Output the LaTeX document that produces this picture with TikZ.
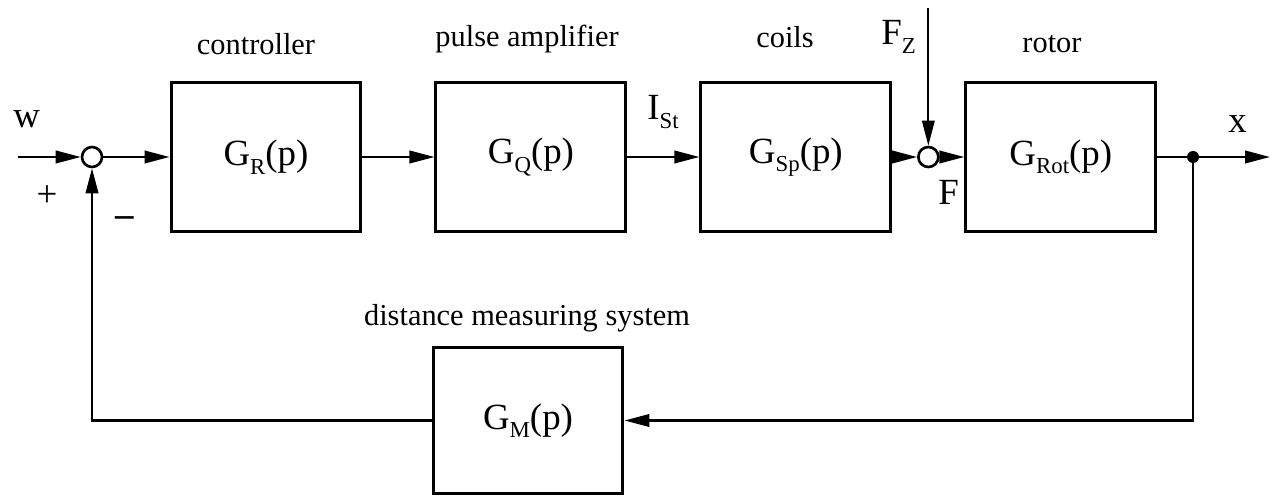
\documentclass[tikz,border=0pt]{standalone}
\usepackage{fontspec}
\setmainfont{Liberation Serif}
\usetikzlibrary{positioning, arrows.meta, calc}

\newcommand{\lsub}[1]{\raisebox{-0.5ex}{\fontsize{13}{13}\selectfont #1}}

\begin{document}
\begin{tikzpicture}[x=0.02cm, y=-0.02cm,
  block/.style={draw, line width=1.7pt, minimum width=3.8cm, minimum height=3cm,
                inner sep=0pt, font=\fontsize{21}{24}\selectfont},
  sumpt/.style={draw, circle, line width=1.5pt, minimum size=0.4cm, inner sep=0pt},
  branch/.style={fill, circle, minimum size=0.24cm, inner sep=0pt},
  lbl/.style={font=\fontsize{17.3}{20}\selectfont, inner sep=0pt, anchor=base},
  sig/.style={font=\fontsize{21}{24}\selectfont, inner sep=0pt, anchor=base west},
  wire/.style={line width=1.3pt},
  arr/.style={wire, -{Triangle[length=0.5cm, width=0.25cm]}},
]
\useasboundingbox (0,0) rectangle (1273,496);

% --- Blocks ---
\node[block] (ctrl) at (266,157) {G\lsub{R}(p)};
\node[block, right=1.44cm of ctrl] (amp) {G\lsub{Q}(p)};
\node[block, right=1.44cm of amp] (coil) {G\lsub{Sp}(p)};
\node[block, right=1.44cm of coil] (rot) {G\lsub{Rot}(p)};
\node[block, minimum height=2.94cm] (gm) at (528,420.5) {G\lsub{M}(p)};

% Summing points and branch
\node[sumpt] (s1) at (92,157) {};
\path (coil.east) -- (rot.west) coordinate[midway] (mid23);
\node[sumpt] (s2) at (mid23) {};
\node[branch] (bp) at (1193,157) {};

% Free ends
\coordinate (win) at (18,157);
\coordinate (xout) at (1270,157);
\coordinate (fz) at ($(s2)+(0,-149)$);

% --- Labels ---
\node[lbl] (lctrl) at (256,55) {controller};
\node[lbl] (lamp) at (527,47) {pulse amplifier};
\node[lbl] (lcoil) at (785,48) {coils};
\node[lbl] (lrot) at (1052,53) {rotor};
\node[lbl] (lgm) at (527,325) {distance measuring system};

\node[sig] (tw) at (13,128) {w};
\node[sig] (tx) at (1228,133) {x};
\node[sig] (tist) at (647,120) {I\lsub{St}};
\node[sig] (tfz) at (881,45) {F\lsub{Z}};
\node[sig] (tf) at (938,205) {F};
\node[inner sep=0pt, font=\fontsize{21}{24}\selectfont] (tplus) at (47,196) {+};
\node[inner sep=0pt, font=\fontsize{21}{24}\selectfont\bfseries] (tminus) at (125,222) {–};

% --- Connectors ---
\draw[arr] (win) -- (s1);
\draw[arr] (s1) -- (ctrl);
\draw[arr] (ctrl) -- (amp);
\draw[arr] (amp) -- (coil);
\draw[arr] (coil) -- (s2);
\draw[arr] (s2) -- (rot);
\draw[wire] (rot) -- (bp);
\draw[arr] (bp) -- (xout);
\draw[arr, line width=1.1pt] (fz) -- (s2);
\draw[arr] (bp) |- (gm);
\draw[arr] (gm) -| (s1);

\end{tikzpicture}
\end{document}
